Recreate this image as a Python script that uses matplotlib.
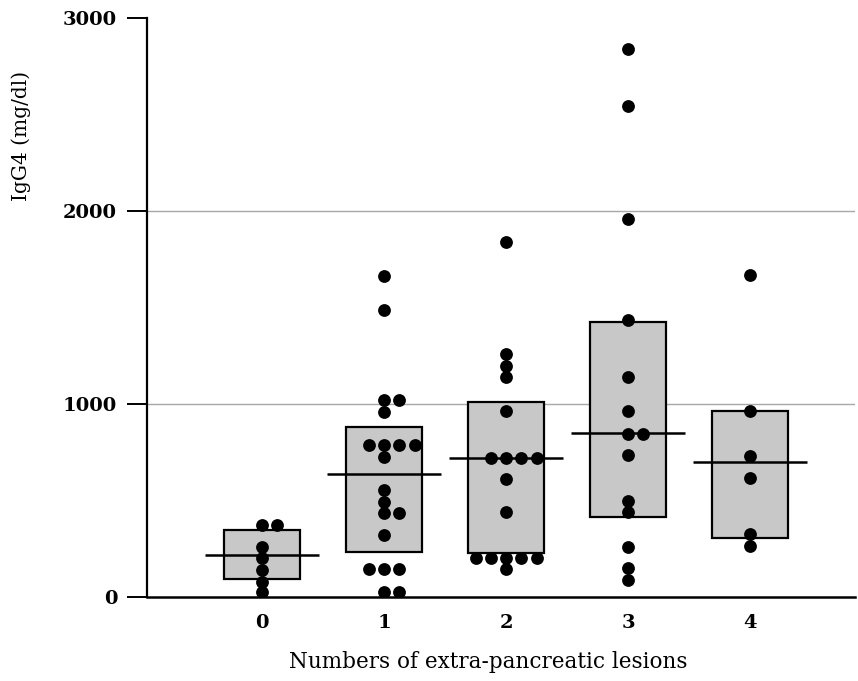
import matplotlib
matplotlib.use("Agg")
import matplotlib.pyplot as plt
from matplotlib.patches import Rectangle
from collections import Counter

# ---- data ----
categories = ["0", "1", "2", "3", "4"]
values_0 = [375, 375, 260, 200, 140, 80, 25]
values_1 = [1663, 1487, 1021, 1021, 959, 788, 788, 788, 788, 727, 554, 494,
            435, 435, 321, 145, 145, 145, 26, 26]
values_2 = [1841, 1259, 1197, 1140, 964, 720, 720, 720, 720, 611, 440,
            202, 202, 202, 202, 202, 145]
values_3 = [2839, 2544, 1959, 1435, 1140, 964, 845, 845, 736, 497, 441,
            259, 150, 88]
values_4 = [1668, 964, 731, 617, 326, 264]
box_low = [93, 233, 228, 415, 306]
box_high = [347, 881, 1010, 1425, 964]
medians = [218, 637, 720, 850, 699]
yticks = [0, 1000, 2000, 3000]
gridlines = [1000, 2000]

groups = [values_0, values_1, values_2, values_3, values_4]

fig = plt.figure(figsize=(8.58, 6.81), dpi=100)
ax = fig.add_axes([147/858, 1-597/681, (855-147)/858, (597-18)/681])

box_w = 0.625
med_w = 0.93
step = 0.125

for y in gridlines:
    ax.axhline(y, color="#a8a8a8", lw=1.0, zorder=1)

for i, vals in enumerate(groups):
    ax.add_patch(Rectangle((i - box_w/2, box_low[i]), box_w, box_high[i]-box_low[i],
                           facecolor="#c8c8c8", edgecolor="black", lw=1.6, zorder=2))
    ax.plot([i - med_w/2, i + med_w/2], [medians[i], medians[i]], color="black",
            lw=1.8, zorder=3, solid_capstyle="butt")
    counts = Counter(vals)
    xs, ys = [], []
    for v, n in counts.items():
        for k in range(n):
            xs.append(i + (k - (n-1)//2) * step)
            ys.append(v)
    ax.scatter(xs, ys, s=85, color="black", zorder=4, linewidths=0)

ax.set_xlim(-0.943, 4.86)
ax.set_ylim(0, 3000)
ax.set_xticks(range(len(categories)))
ax.set_xticklabels(categories, family="DejaVu Serif", fontsize=14, fontweight="bold")
ax.set_yticks(yticks)
ax.set_yticklabels([str(t) for t in yticks], family="DejaVu Serif",
                   fontsize=14, fontweight="bold")
ax.tick_params(axis="x", length=0, pad=12)
ax.tick_params(axis="y", length=14.5, width=1.4, pad=7, direction="out")

for s in ["top", "right"]:
    ax.spines[s].set_visible(False)
ax.spines["left"].set_linewidth(1.6)
ax.spines["bottom"].set_linewidth(1.8)

ax.set_xlabel("Numbers of extra-pancreatic lesions", family="DejaVu Serif", fontsize=15.5)
ax.xaxis.set_label_coords((488-147)/708, -(662-597)/579)
ax.xaxis.label.set_va("center")
ax.set_ylabel("IgG4 (mg/dl)", family="DejaVu Serif", fontsize=14.5)
ax.yaxis.set_label_coords((21-147)/708, (597-136)/579)
ax.yaxis.label.set_va("center")

fig.savefig("out.png", dpi=100)
